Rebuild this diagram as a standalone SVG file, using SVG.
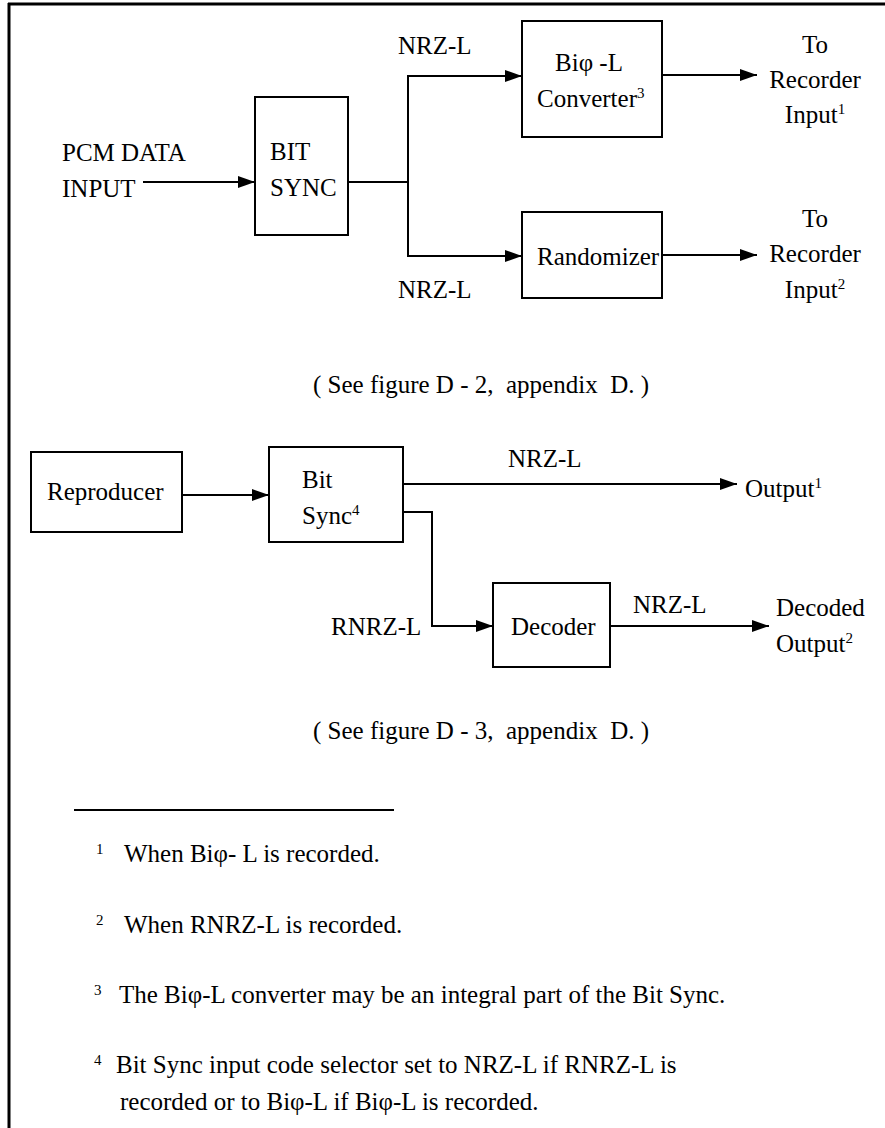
<svg xmlns="http://www.w3.org/2000/svg" width="885" height="1128" viewBox="0 0 885 1128">
<style>
  text { font-family: 'Liberation Serif', 'DejaVu Serif', serif; font-size: 25px; fill: #000; white-space: pre; }
  .sup { font-size: 15px; }
  .box { fill: #fff; stroke: #000; stroke-width: 2; }
  .wire { fill: none; stroke: #000; stroke-width: 2; }
  .mid { text-anchor: middle; }
</style>
<defs>
  <marker id="arrow" markerUnits="userSpaceOnUse" markerWidth="18" markerHeight="14" refX="17" refY="6" orient="auto">
    <path d="M0,0 L17,6 L0,12 z" fill="#000"/>
  </marker>
</defs>
<rect x="0" y="0" width="885" height="1128" fill="#fff"/>
<g id="frame">
  <line x1="8" y1="4" x2="885" y2="4" stroke="#000" stroke-width="3"/>
  <line x1="9" y1="3" x2="9" y2="1128" stroke="#000" stroke-width="3"/>
</g>

<g id="connectors">
  <line class="wire" x1="143" y1="182" x2="255" y2="182" marker-end="url(#arrow)"/>
  <line class="wire" x1="348" y1="182" x2="408" y2="182"/>
  <line class="wire" x1="408" y1="75" x2="408" y2="256"/>
  <line class="wire" x1="407" y1="76" x2="522" y2="76" marker-end="url(#arrow)"/>
  <line class="wire" x1="407" y1="256" x2="522" y2="256" marker-end="url(#arrow)"/>
  <line class="wire" x1="662" y1="75" x2="757" y2="75" marker-end="url(#arrow)"/>
  <line class="wire" x1="662" y1="255" x2="757" y2="255" marker-end="url(#arrow)"/>
  <line class="wire" x1="182" y1="495" x2="269" y2="495" marker-end="url(#arrow)"/>
  <line class="wire" x1="403" y1="484" x2="737" y2="484" marker-end="url(#arrow)"/>
  <polyline class="wire" points="403,512 432,512 432,626 493,626" marker-end="url(#arrow)"/>
  <line class="wire" x1="610" y1="626" x2="769" y2="626" marker-end="url(#arrow)"/>
</g>

<g id="pcm-input">
  <text x="62" y="161">PCM DATA</text>
  <text x="62" y="197">INPUT</text>
</g>
<g id="bit-sync-1">
  <rect class="box" x="255" y="97" width="93" height="138"/>
  <text x="270" y="160">BIT</text>
  <text x="270" y="196">SYNC</text>
</g>
<g id="label-nrz-top"><text x="398" y="54">NRZ-L</text></g>
<g id="label-nrz-bottom"><text x="398" y="298">NRZ-L</text></g>
<g id="biphase-converter">
  <rect class="box" x="522" y="21" width="140" height="116"/>
  <text class="mid" x="589" y="71">Biφ -L</text>
  <text x="537" y="107">Converter<tspan class="sup" dy="-9">3</tspan></text>
</g>
<g id="randomizer">
  <rect class="box" x="522" y="212" width="140" height="86"/>
  <text x="537" y="265">Randomizer</text>
</g>
<g id="recorder-input-1">
  <text class="mid" x="815" y="53">To</text>
  <text class="mid" x="815" y="88">Recorder</text>
  <text class="mid" x="815" y="123">Input<tspan class="sup" dy="-9">1</tspan></text>
</g>
<g id="recorder-input-2">
  <text class="mid" x="815" y="227">To</text>
  <text class="mid" x="815" y="262">Recorder</text>
  <text class="mid" x="815" y="298">Input<tspan class="sup" dy="-9">2</tspan></text>
</g>
<g id="caption-1"><text x="313" y="393">( See figure D - 2,  appendix  D. )</text></g>

<g id="reproducer">
  <rect class="box" x="31" y="452" width="151" height="80"/>
  <text x="47" y="500">Reproducer</text>
</g>
<g id="bit-sync-2">
  <rect class="box" x="269" y="447" width="134" height="95"/>
  <text x="302" y="488">Bit</text>
  <text x="302" y="524">Sync<tspan class="sup" dy="-9">4</tspan></text>
</g>
<g id="label-nrz-out"><text x="508" y="467">NRZ-L</text></g>
<g id="output-1"><text x="745" y="497">Output<tspan class="sup" dy="-9">1</tspan></text></g>
<g id="label-rnrz"><text x="331" y="635">RNRZ-L</text></g>
<g id="decoder">
  <rect class="box" x="493" y="583" width="117" height="84"/>
  <text x="511" y="635">Decoder</text>
</g>
<g id="label-nrz-dec"><text x="633" y="613">NRZ-L</text></g>
<g id="decoded-output">
  <text x="776" y="616">Decoded</text>
  <text x="776" y="652">Output<tspan class="sup" dy="-9">2</tspan></text>
</g>
<g id="caption-2"><text x="313" y="739">( See figure D - 3,  appendix  D. )</text></g>

<g id="footnotes">
  <line x1="74" y1="810" x2="394" y2="810" stroke="#000" stroke-width="2"/>
  <text x="96" y="854" class="sup">1</text>
  <text x="124" y="862">When Biφ- L is recorded.</text>
  <text x="96" y="925" class="sup">2</text>
  <text x="124" y="933">When RNRZ-L is recorded.</text>
  <text x="94" y="995" class="sup">3</text>
  <text x="119" y="1003">The Biφ-L converter may be an integral part of the Bit Sync.</text>
  <text x="94" y="1065" class="sup">4</text>
  <text x="116" y="1073">Bit Sync input code selector set to NRZ-L if RNRZ-L is</text>
  <text x="120" y="1110">recorded or to Biφ-L if Biφ-L is recorded.</text>
</g>
</svg>
